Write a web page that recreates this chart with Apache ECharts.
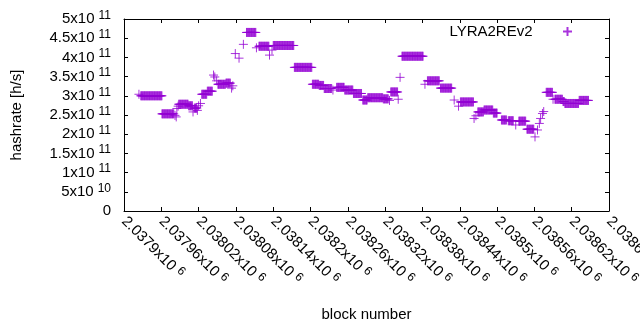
<!DOCTYPE html>
<html>
<head>
<meta charset="utf-8">
<script src="https://cdn.jsdelivr.net/npm/echarts@6/dist/echarts.min.js"></script>
<style>
  html, body { margin: 0; padding: 0; background: #fff; }
  #chart { width: 640px; height: 330px; }
</style>
</head>
<body>
<div id="chart"></div>
<script>
// runs of blocks that share the same hashrate estimate (start block, end block, value)
const runStart = [2037924, 2037927, 2037961, 2037982, 2037984, 2037985, 2037987, 2037988, 2038004, 2038011,
  2038013, 2038018, 2038020, 2038023, 2038025, 2038034, 2038044, 2038046, 2038049, 2038051,
  2038064, 2038073, 2038075, 2038079, 2038085, 2038092, 2038097, 2038113, 2038117, 2038134,
  2038138, 2038140, 2038174, 2038203, 2038214, 2038222, 2038236, 2038242, 2038255, 2038269,
  2038284, 2038292, 2038317, 2038327, 2038329, 2038341, 2038344, 2038347, 2038384, 2038388,
  2038409, 2038431, 2038438, 2038441, 2038463, 2038466, 2038469, 2038479, 2038494, 2038507,
  2038518, 2038530, 2038535, 2038548, 2038561, 2038565, 2038568, 2038570, 2038573, 2038575,
  2038579, 2038590, 2038593, 2038606, 2038609, 2038632];
const runEnd = [2037924, 2037961, 2037980, 2037982, 2037984, 2037985, 2037987, 2038003, 2038010, 2038011,
  2038017, 2038018, 2038020, 2038023, 2038033, 2038042, 2038044, 2038046, 2038049, 2038063,
  2038071, 2038073, 2038075, 2038079, 2038085, 2038092, 2038112, 2038113, 2038133, 2038134,
  2038138, 2038173, 2038202, 2038213, 2038221, 2038234, 2038236, 2038254, 2038268, 2038282,
  2038291, 2038316, 2038325, 2038327, 2038340, 2038341, 2038344, 2038381, 2038384, 2038407,
  2038427, 2038431, 2038438, 2038462, 2038463, 2038466, 2038478, 2038493, 2038500, 2038515,
  2038526, 2038530, 2038546, 2038559, 2038561, 2038565, 2038568, 2038570, 2038573, 2038575,
  2038589, 2038590, 2038605, 2038608, 2038631, 2038647];
const runValue = [3.04e11, 3.00e11, 2.53e11, 2.49e11, 2.45e11, 2.67e11, 2.73e11, 2.78e11, 2.74e11, 2.58e11,
  2.68e11, 2.62e11, 2.74e11, 2.80e11, 3.04e11, 3.12e11, 3.54e11, 3.49e11, 3.39e11, 3.30e11,
  3.33e11, 3.20e11, 3.26e11, 4.10e11, 3.98e11, 4.34e11, 4.65e11, 4.25e11, 4.29e11, 4.06e11,
  4.19e11, 4.31e11, 3.74e11, 3.30e11, 3.27e11, 3.19e11, 3.15e11, 3.22e11, 3.15e11, 3.06e11,
  2.89e11, 2.95e11, 2.92e11, 2.88e11, 3.10e11, 2.91e11, 3.48e11, 4.03e11, 3.30e11, 3.39e11,
  3.20e11, 2.89e11, 2.73e11, 2.84e11, 2.41e11, 2.48e11, 2.58e11, 2.63e11, 2.55e11, 2.37e11,
  2.35e11, 2.24e11, 2.34e11, 2.13e11, 1.93e11, 2.11e11, 2.28e11, 2.41e11, 2.54e11, 2.59e11,
  3.09e11, 2.91e11, 2.91e11, 2.85e11, 2.80e11, 2.88e11];

const xTickLabels = ['2.0379x10^6', '2.03796x10^6', '2.03802x10^6', '2.03808x10^6', '2.03814x10^6',
  '2.0382x10^6', '2.03826x10^6', '2.03832x10^6', '2.03838x10^6', '2.03844x10^6',
  '2.0385x10^6', '2.03856x10^6', '2.03862x10^6', '2.03868x10^6'];
const yTickLabels = ['0', '5x10^10', '1x10^11', '1.5x10^11', '2x10^11', '2.5x10^11',
  '3x10^11', '3.5x10^11', '4x10^11', '4.5x10^11', '5x10^11'];

const X_MIN = 2037900, X_MAX = 2038680, X_STEP = 60;
const Y_MIN = 0, Y_MAX = 5e11, Y_STEP = 5e10;

// one point per block
const points = [];
for (let i = 0; i < runStart.length; i++) {
  for (let b = runStart[i]; b <= runEnd[i]; b++) {
    points.push([b, runValue[i]]);
  }
}

const color = '#9400d3';
const font = 'Liberation Sans, Arial, sans-serif';
const plus = 'path://M0,5L10,5M5,0L5,10';

// "2x10^11" -> rich text with a raised exponent
const richLabel = (labels, min, step) => (v) => {
  const t = labels[Math.round((v - min) / step)] || '';
  const p = t.split('^');
  return p.length > 1 ? '{b|' + p[0] + '}{s|' + p[1] + '}' : '{b|' + p[0] + '}';
};
const rich = {
  b: { fontSize: 15, fontFamily: font, color: '#000', lineHeight: 15 },
  s: { fontSize: 12, fontFamily: font, color: '#000', lineHeight: 12, padding: [0, 0, 7, 4] }
};

const axisLine = { show: true, onZero: false, lineStyle: { color: '#000', width: 1 } };
const axisTick = { show: true, inside: true, length: 4, lineStyle: { color: '#000' } };

const chart = echarts.init(document.getElementById('chart'), null, { renderer: 'canvas' });
chart.setOption({
  animation: false,
  backgroundColor: '#fff',
  grid: { left: 124, right: 31, top: 19, bottom: 119, containLabel: false, outerBoundsMode: 'none' },
  legend: {
    right: 62,
    top: 19,
    align: 'right',
    itemWidth: 60,
    itemHeight: 9,
    textStyle: { fontSize: 15, fontFamily: font, color: '#000' },
    data: ['LYRA2REv2']
  },
  xAxis: [{
    type: 'value',
    min: X_MIN, max: X_MAX, interval: X_STEP,
    name: 'block number',
    nameLocation: 'middle',
    nameGap: 96,
    nameTextStyle: { fontSize: 15, fontFamily: font, color: '#000' },
    axisLine, axisTick,
    splitLine: { show: false },
    axisLabel: {
      rotate: -45, margin: 8, showMinLabel: true, showMaxLabel: true,
      formatter: richLabel(xTickLabels, X_MIN, X_STEP), rich
    }
  }, {
    type: 'value', position: 'top',
    min: X_MIN, max: X_MAX, interval: X_STEP,
    axisLine, axisTick,
    splitLine: { show: false },
    axisLabel: { show: false }
  }],
  yAxis: [{
    type: 'value',
    min: Y_MIN, max: Y_MAX, interval: Y_STEP,
    name: 'hashrate [h/s]',
    nameLocation: 'middle',
    nameRotate: 90,
    nameGap: 100,
    nameTextStyle: { fontSize: 15, fontFamily: font, color: '#000' },
    axisLine, axisTick,
    splitLine: { show: false },
    axisLabel: {
      margin: 13, showMinLabel: true, showMaxLabel: true,
      formatter: richLabel(yTickLabels, Y_MIN, Y_STEP), rich
    }
  }, {
    type: 'value', position: 'right',
    min: Y_MIN, max: Y_MAX, interval: Y_STEP,
    axisLine, axisTick,
    splitLine: { show: false },
    axisLabel: { show: false }
  }],
  series: [{
    name: 'LYRA2REv2',
    type: 'scatter',
    symbol: plus,
    symbolSize: 9,
    itemStyle: { color: color, borderColor: color, borderWidth: 1 },
    emphasis: { disabled: true },
    data: points
  }]
});
</script>
</body>
</html>
